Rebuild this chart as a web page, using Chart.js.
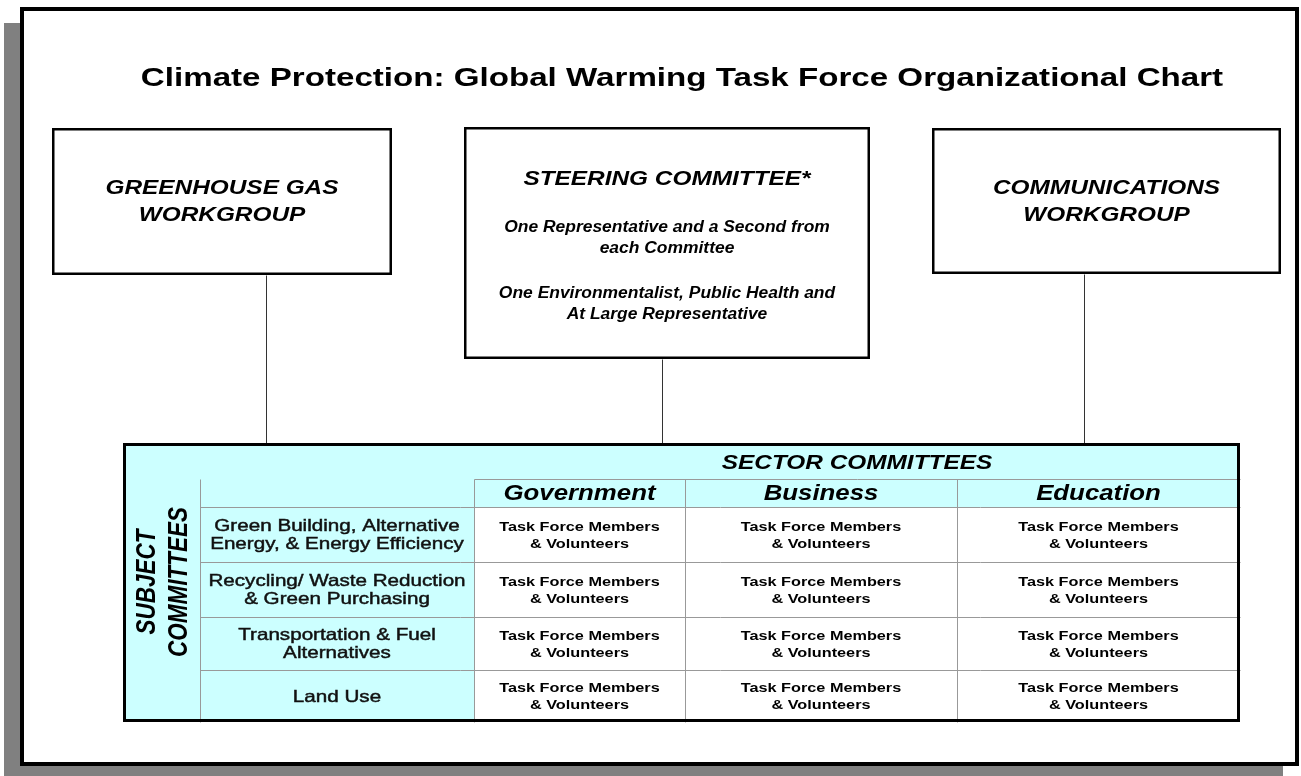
<!DOCTYPE html>
<html>
<head>
<meta charset="utf-8">
<script src="https://cdn.jsdelivr.net/npm/chart.js@4"></script>
<style>
  html, body { margin: 0; padding: 0; background: #fff; }
  #wrap { width: 1301px; height: 776px; }
</style>
</head>
<body>
<div id="wrap"><canvas id="org"></canvas></div>
<script>
// chart content
const title = 'Climate Protection: Global Warming Task Force Organizational Chart';
const greenhouseBox = ['GREENHOUSE GAS', 'WORKGROUP'];
const communicationsBox = ['COMMUNICATIONS', 'WORKGROUP'];
const steeringTitle = 'STEERING COMMITTEE*';
const steeringNotes = [
  ['One Representative and a Second from', 'each Committee'],
  ['One Environmentalist, Public Health and', 'At Large Representative']
];
const sectorHeader = 'SECTOR COMMITTEES';
const sectors = ['Government', 'Business', 'Education'];
const subjectHeader = ['SUBJECT', 'COMMITTEES'];
const subjects = [
  ['Green Building, Alternative', 'Energy, & Energy Efficiency'],
  ['Recycling/ Waste Reduction', '& Green Purchasing'],
  ['Transportation & Fuel', 'Alternatives'],
  ['Land Use']
];
const cellText = ['Task Force Members', '& Volunteers'];

// layout, in scale units (the scales map 1:1 to the page)
const SX = 1.25; // the original lettering is stretched sideways
const layout = {
  frame: [20, 7, 1299, 766],
  shadow: 16,
  title: [682, 86],
  greenhouse: [52, 128, 392, 275],
  steering: [464, 127, 870, 359],
  comms: [932, 128, 1281, 274],
  links: [266, 662, 1084],
  colX: [123, 200, 474, 685, 957, 1240],
  rowY: [443, 479, 507, 562, 617, 670, 722],
  subjectMid: 582
};

const FONT = '"Liberation Sans", Arial, sans-serif';
const CYAN = '#ccffff';
const GRID = '#999999';

const orgPlugin = {
  id: 'orgchart',
  afterDraw(chart) {
    const ctx = chart.ctx;
    const X = v => chart.scales.x.getPixelForValue(v);
    const Y = v => chart.scales.y.getPixelForValue(v);

    function box(b, fill, stroke, lw) {
      const x0 = X(b[0]), y0 = Y(b[1]), x1 = X(b[2]), y1 = Y(b[3]);
      if (fill) { ctx.fillStyle = fill; ctx.fillRect(x0, y0, x1 - x0, y1 - y0); }
      if (stroke) {
        ctx.strokeStyle = stroke; ctx.lineWidth = lw;
        ctx.strokeRect(x0 + lw / 2, y0 + lw / 2, x1 - x0 - lw, y1 - y0 - lw);
      }
    }
    function line(x0, y0, x1, y1, color, lw) {
      ctx.strokeStyle = color; ctx.lineWidth = lw;
      ctx.beginPath();
      ctx.moveTo(Math.round(X(x0)) + 0.5, Math.round(Y(y0)) + 0.5);
      ctx.lineTo(Math.round(X(x1)) + 0.5, Math.round(Y(y1)) + 0.5);
      ctx.stroke();
    }
    function text(s, x, y, font, opts) {
      opts = opts || {};
      ctx.save();
      ctx.font = font;
      ctx.fillStyle = opts.color || '#000';
      ctx.textAlign = 'center';
      ctx.textBaseline = 'alphabetic';
      ctx.translate(X(x), Y(y));
      ctx.scale(opts.sx || SX, 1);
      if (opts.rotated) ctx.rotate(-Math.PI / 2);
      ctx.fillText(s, 0, 0);
      if (opts.thicken) {
        ctx.strokeStyle = ctx.fillStyle;
        ctx.lineWidth = opts.thicken;
        ctx.strokeText(s, 0, 0);
      }
      ctx.restore();
    }

    const f = layout.frame, sh = layout.shadow;
    // drop shadow + frame
    box([f[0] - sh, f[1] + sh, f[2] - sh, f[3] + sh], '#808080');
    box(f, '#fff', '#000', 4);

    text(title, layout.title[0], layout.title[1], 'bold 26.5px ' + FONT);

    // top boxes
    const bi = 'italic bold 19.5px ' + FONT;
    [[layout.greenhouse, greenhouseBox], [layout.comms, communicationsBox]].forEach(([b, lines]) => {
      box(b, '#fff', '#000', 2.5);
      const cx = (b[0] + b[2]) / 2;
      lines.forEach((s, i) => text(s, cx, b[1] + 66 + i * 27, bi));
    });
    const st = layout.steering;
    box(st, '#fff', '#000', 2.5);
    const scx = (st[0] + st[2]) / 2;
    text(steeringTitle, scx, st[1] + 58, bi);
    steeringNotes.forEach((para, p) => {
      para.forEach((s, i) => text(s, scx, st[1] + 105 + p * 66 + i * 21,
        'italic bold 16px ' + FONT, { sx: 1.09 }));
    });

    // connectors
    const cx = layout.colX, ry = layout.rowY;
    line(layout.links[0], layout.greenhouse[3], layout.links[0], ry[0], '#333', 1);
    line(layout.links[1], st[3], layout.links[1], ry[0], '#333', 1);
    line(layout.links[2], layout.comms[3], layout.links[2], ry[0], '#333', 1);

    // table
    const tEnd = cx[cx.length - 1], tBot = ry[ry.length - 1];
    box([cx[0], ry[0], tEnd, tBot], CYAN);
    box([cx[2], ry[2], tEnd, tBot], '#fff');
    line(cx[2], ry[1], tEnd, ry[1], GRID, 1);
    for (let r = 2; r < ry.length - 1; r++) line(cx[1], ry[r], tEnd, ry[r], GRID, 1);
    line(cx[1], ry[1], cx[1], tBot, GRID, 1);
    for (let c = 2; c < cx.length - 1; c++) line(cx[c], ry[1], cx[c], tBot, GRID, 1);
    box([cx[0], ry[0], tEnd, tBot], null, '#000', 3);

    text(sectorHeader, (cx[2] + tEnd) / 2, ry[0] + 26, 'italic bold 19.5px ' + FONT);
    sectors.forEach((s, i) => text(s, (cx[i + 2] + cx[i + 3]) / 2, ry[1] + 21,
      'italic bold 21.5px ' + FONT, { sx: 1.2 }));

    const subjFont = 'italic bold 22.5px ' + FONT;
    text(subjectHeader[0], 155, layout.subjectMid, subjFont, { rotated: true });
    text(subjectHeader[1], 187, layout.subjectMid, subjFont, { rotated: true });

    subjects.forEach((lines, r) => {
      const mid = (ry[r + 2] + ry[r + 3]) / 2;
      const lx = (cx[1] + cx[2]) / 2;
      const lab = { color: '#111', thicken: 0.45 };
      if (lines.length === 1) text(lines[0], lx, mid + 6, '16.5px ' + FONT, lab);
      else lines.forEach((s, i) => text(s, lx, mid - 4 + i * 18, '16.5px ' + FONT, lab));
      for (let c = 2; c < cx.length - 1; c++) {
        const mx = (cx[c] + cx[c + 1]) / 2;
        cellText.forEach((s, i) => text(s, mx, mid - 4 + i * 17, 'bold 13px ' + FONT));
      }
    });
  }
};

new Chart(document.getElementById('org'), {
  type: 'scatter',
  data: { datasets: [] },
  options: {
    animation: false,
    responsive: true,
    maintainAspectRatio: false,
    layout: { padding: 0 },
    plugins: { legend: { display: false }, tooltip: { enabled: false } },
    scales: {
      x: { type: 'linear', min: 0, max: 1301, display: false },
      y: { type: 'linear', min: 0, max: 776, reverse: true, display: false }
    }
  },
  plugins: [orgPlugin]
});
</script>
</body>
</html>
